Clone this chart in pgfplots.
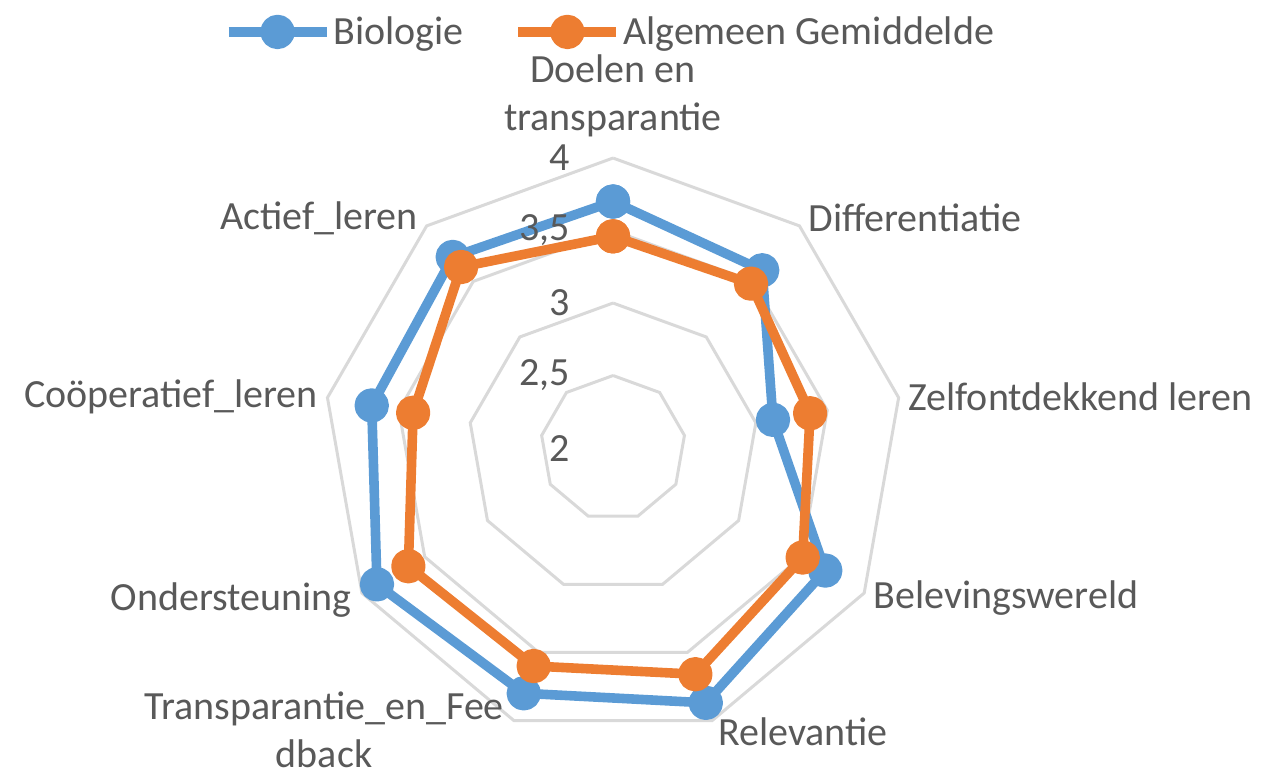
\documentclass[border=0pt]{standalone}
\usepackage{fontspec}
\setmainfont{Carlito}
\usepackage{pgfplots}
\pgfplotsset{compat=1.18}
\usepackage{pgfplotstable}
\definecolor{bio}{HTML}{5B9BD5}
\definecolor{alg}{HTML}{ED7D31}
\definecolor{gridc}{HTML}{D9D9D9}
\definecolor{txt}{HTML}{595959}

% angle (deg), value
\pgfplotstableread{
a v
90 3.70
50 3.60
10 3.12
-30 3.69
-70 3.87
-110 3.80
-150 3.88
-190 3.69
-230 3.72
-270 3.70
}\biotab
\pgfplotstableread{
a v
90 3.46
50 3.48
10 3.38
-30 3.51
-70 3.66
-110 3.60
-150 3.63
-190 3.40
-230 3.63
-270 3.46
}\algtab
\pgfplotstableread{
a d
90 0
50 0
10 0
-30 0
-70 0
-110 0
-150 0
-190 0
-230 0
-270 0
}\gridtab

\begin{document}
\begin{tikzpicture}[font=\fontsize{20}{24}\selectfont, text=txt]
\begin{axis}[
  hide axis, scale only axis,
  x=72.5pt, y=72.5pt,
  xmin=-4.228, xmax=4.517, ymin=-2.283, ymax=3.090,
  clip=false,
  legend columns=2,
  legend style={draw=none, fill=none, at={(0.481,0.959)}, anchor=center,
    font=\fontsize{20}{24}\selectfont, text=txt,
    /tikz/every even column/.style={column sep=24pt},
    nodes={inner xsep=1pt}},
  legend image code/.code={
    \draw[#1, mark=none] (0pt,0pt) -- (49pt,0pt);
    \draw[#1, only marks] plot coordinates {(24.5pt,0pt)};
  },
  lab/.style={inner xsep=0pt},
]
\path (axis cs:-4.228,-2.283) rectangle (axis cs:4.517,3.090);
\pgfplotsinvokeforeach{0.5,1,1.5,2}{
  \addplot[gridc, line width=1.5pt, mark=none, forget plot]
    table[x expr={#1*cos(\thisrow{a})}, y expr={#1*sin(\thisrow{a})}] {\gridtab};
}
\addplot[bio, line width=4.8pt, line join=round, mark=*, mark size=6.2pt]
  table[x expr={(\thisrow{v}-2)*cos(\thisrow{a})}, y expr={(\thisrow{v}-2)*sin(\thisrow{a})}] {\biotab};
\addlegendentry{Biologie}
\addplot[alg, line width=4.8pt, line join=round, mark=*, mark size=6.2pt]
  table[x expr={(\thisrow{v}-2)*cos(\thisrow{a})}, y expr={(\thisrow{v}-2)*sin(\thisrow{a})}] {\algtab};
\addlegendentry{Algemeen Gemiddelde}

% radial tick labels
\node[anchor=east, inner xsep=0pt] at (axis cs:-0.297,2.0) {4};
\node[anchor=east, inner xsep=0pt] at (axis cs:-0.297,1.5) {3,5};
\node[anchor=east, inner xsep=0pt] at (axis cs:-0.297,1.0) {3};
\node[anchor=east, inner xsep=0pt] at (axis cs:-0.297,0.5) {2,5};
\node[anchor=east, inner xsep=0pt] at (axis cs:-0.297,0.0) {2};

% category labels
\node[align=center, anchor=center] at (axis cs:0,2.428) {Doelen en\\transparantie};
\node[anchor=west, inner xsep=0pt] at (axis cs:1.345,1.586) {Differentiatie};
\node[anchor=west, inner xsep=0pt] at (axis cs:2.034,0.352) {Zelfontdekkend leren};
\node[anchor=west, inner xsep=0pt] at (axis cs:1.793,-1.034) {Belevingswereld};
\node[anchor=west, inner xsep=0pt] at (axis cs:0.724,-1.959) {Relevantie};
\node[align=center, anchor=center] at (axis cs:-1.993,-1.945) {Transparantie\_en\_Fee\\dback};
\node[anchor=east, inner xsep=0pt] at (axis cs:-1.8,-1.048) {Ondersteuning};
\node[anchor=east, inner xsep=0pt] at (axis cs:-2.034,0.352) {Coöperatief\_leren};
\node[anchor=east, inner xsep=0pt] at (axis cs:-1.345,1.586) {Actief\_leren};
\end{axis}
\end{tikzpicture}
\end{document}
